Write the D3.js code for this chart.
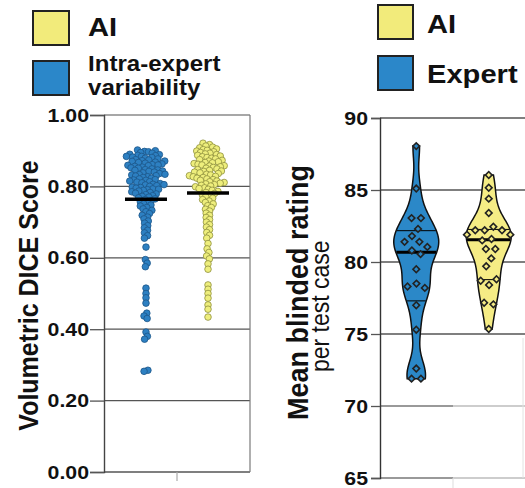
<!DOCTYPE html>
<html><head><meta charset="utf-8">
<script src="https://cdn.jsdelivr.net/npm/d3@7"></script>
<style>body{margin:0;background:#fff} svg{display:block} text{font-family:"Liberation Sans",Arial,sans-serif;fill:#111}</style>
</head><body><svg id="c" width="525" height="488"></svg>
<script>
// ---------------- DATA ----------------
const swarmGroups = ["Intra-expert variability", "AI"];
const diceTicks = [0, 0.2, 0.4, 0.6, 0.8, 1.0];
const diceExpert = [
0.902,0.900,0.898,0.897,0.895,0.893,
0.890,0.889,0.887,0.886,0.884,0.884,0.882,0.881,0.879,
0.877,0.875,0.874,0.872,0.871,0.870,0.868,0.867,0.865,
0.863,0.861,0.860,0.859,0.858,0.856,0.854,0.852,0.851,
0.849,0.847,0.846,0.845,0.843,0.842,0.840,0.838,0.836,
0.834,0.833,0.832,0.830,0.829,0.827,0.825,0.823,0.821,
0.819,0.818,0.817,0.815,0.813,0.812,0.810,0.808,0.806,
0.805,0.804,0.802,0.800,0.798,0.797,0.795,0.793,0.792,0.791,
0.789,0.787,0.785,0.783,0.781,0.779,0.777,
0.774,0.772,0.770,0.768,0.765,0.763,0.760,
0.757,0.754,0.751,0.748,0.745,
0.741,0.737,0.733,0.729,
0.724,0.719,0.714,0.709,
0.703,0.697,0.690,0.684,
0.677,0.670,0.662,0.655,
0.630,0.595,0.585,0.575,0.515,0.500,0.488,0.473,0.445,0.437,0.430,0.392,0.380,0.372,0.285,0.282];
const diceAI = [
0.921,0.917,0.913,0.910,0.908,
0.905,0.903,0.901,0.899,0.897,0.895,
0.893,0.891,0.889,0.887,0.885,0.883,0.881,
0.879,0.877,0.875,0.873,0.871,0.869,0.867,0.866,
0.864,0.862,0.860,0.858,0.857,0.855,0.853,0.851,
0.849,0.847,0.845,0.843,0.842,0.840,0.838,0.836,
0.834,0.832,0.830,0.828,0.827,0.825,0.823,0.821,
0.819,0.817,0.815,0.813,0.811,0.809,0.807,0.805,
0.803,0.801,0.799,0.796,0.794,0.792,0.789,
0.786,0.783,0.780,0.777,0.774,0.771,
0.767,0.763,0.759,0.755,0.751,
0.746,0.741,0.736,0.731,
0.725,0.719,0.713,0.707,
0.700,0.693,0.686,0.679,
0.671,0.663,0.655,
0.640,0.625,0.615,0.605,0.597,0.583,0.568,
0.524,0.512,0.500,0.487,0.468,0.456,0.434];
const leftLegendLabels = [["AI"], ["Intra-expert", "variability"]];
const leftAxisTitle = "Volumetric DICE Score";

const ratingGroups = ["Expert", "AI"];
const ratingTicks = [65, 70, 75, 80, 85, 90];
const ratingExpert = [88.05,85.1,83.05,83.05,82.3,81.8,81.4,81.4,81.05,80.8,80.55,79.5,78.5,78.3,78.2,77.0,75.3,72.6,71.9,71.9];
const ratingAI = [86.04,85.16,84.4,83.4,82.45,82.2,82.2,82.2,81.9,81.9,81.6,81.5,80.9,80.9,80.25,79.7,78.8,78.7,78.4,77.17,77.06,75.35];
const rightLegendLabels = ["AI", "Expert"];
const rightAxisTitle = ["Mean blinded rating", "per test case"];

// ---------------- STYLE ----------------
const SX = 1.12;
const C = {
  blueFill: "#2d80c2", blueStroke: "#1d5688",
  yelFill: "#eeee7c", yelStroke: "#8e8f3e",
  legBlue: "#2b87c9", legYel: "#f2eb7b",
  vBlue: "#2b88c8", vYel: "#f5ec85"
};
const svg = d3.select("#c");

function stext(g, x, y, str, size, weight, anchor, rot) {
  return g.append("text")
    .attr("transform", `translate(${x},${y}) scale(${SX},1)` + (rot ? " rotate(-90)" : ""))
    .attr("font-size", size).attr("font-weight", weight).attr("text-anchor", anchor)
    .text(str);
}
function stretchAxisText(g) {
  g.selectAll(".tick text").each(function() {
    const t = d3.select(this);
    const x = +t.attr("x");
    t.attr("transform", `translate(${x},0) scale(${SX},1)`).attr("x", 0);
  });
}
function swarm(values, cx, y, r, s) {
  const nodes = values.map((v, i) => ({ v, x: cx + ((i % 2) ? 0.5 : -0.5), fy: y(v), y: y(v) }));
  const sim = d3.forceSimulation(nodes)
    .force("x", d3.forceX(cx).strength(s))
    .force("c", d3.forceCollide(r).iterations(4)).stop();
  for (let i = 0; i < 400; i++) sim.tick();
  return nodes;
}

// ---------------- LEFT CHART ----------------
const yL = d3.scaleLinear().domain([0, 1]).range([472, 115]);
const xL = d3.scalePoint().domain(swarmGroups).range([104, 250]).padding(0.677);
const gL = svg.append("g");

gL.selectAll("line.grid").data(diceTicks).join("line")
  .attr("x1", 104).attr("x2", 250).attr("y1", d => yL(d)).attr("y2", d => yL(d))
  .attr("stroke", d => d === 1 ? "#8a8a8a" : "#555").attr("stroke-width", 1.3);
gL.append("line").attr("x1", 250).attr("x2", 250).attr("y1", yL(1)).attr("y2", yL(0))
  .attr("stroke", "#7a7a7a").attr("stroke-width", 1.2);
const axL = gL.append("g").attr("transform", "translate(104,0)")
  .call(d3.axisLeft(yL).tickValues(diceTicks).tickFormat(d3.format(".2f")).tickSize(14).tickPadding(1));
axL.select(".domain").attr("stroke", "#444").attr("stroke-width", 1.4);
axL.selectAll(".tick line").attr("stroke", "#555").attr("stroke-width", 1.3);
axL.selectAll(".tick text").attr("font-size", 19).attr("font-weight", "bold").attr("fill", "#111")
  .attr("font-family", '"Liberation Sans",Arial,sans-serif');
stretchAxisText(axL);
const midL = (xL(swarmGroups[0]) + xL(swarmGroups[1])) / 2;
gL.append("line").attr("x1", midL).attr("x2", midL).attr("y1", yL(0)).attr("y2", yL(0) + 9)
  .attr("stroke", "#aaa").attr("stroke-width", 1.2);

stext(gL, 38, (yL(0) + yL(1)) / 2 + 2, leftAxisTitle, 25, "bold", "middle", true);

const swarmSets = [
  { vals: diceExpert, g: swarmGroups[0], fill: C.blueFill, stroke: C.blueStroke },
  { vals: diceAI, g: swarmGroups[1], fill: C.yelFill, stroke: C.yelStroke }
];
swarmSets.forEach(s => {
  const cx = xL(s.g);
  const nodes = swarm(s.vals, cx, yL, 2.0, 0.3);
  gL.append("g").selectAll("circle").data(nodes).join("circle")
    .attr("cx", d => d.x).attr("cy", d => d.y).attr("r", 3.3)
    .attr("fill", s.fill).attr("stroke", s.stroke).attr("stroke-width", 0.8);
  const m = d3.mean(s.vals);
  gL.append("line").attr("x1", cx - 21).attr("x2", cx + 21).attr("y1", yL(m)).attr("y2", yL(m))
    .attr("stroke", "#000").attr("stroke-width", 3.5);
});

// left legend
const legL = svg.append("g");
[[C.legYel, 11], [C.legBlue, 61]].forEach(([f, y]) => {
  legL.append("rect").attr("x", 33).attr("y", y).attr("width", 36).attr("height", 34)
    .attr("fill", f).attr("stroke", "#222").attr("stroke-width", 2);
});
stext(legL, 88, 36, leftLegendLabels[0][0], 26, "bold", "start");
stext(legL, 88, 71, leftLegendLabels[1][0], 21.5, "bold", "start");
stext(legL, 88, 94.5, leftLegendLabels[1][1], 21.5, "bold", "start");

// ---------------- RIGHT CHART ----------------
const yR = d3.scaleLinear().domain([65, 90]).range([478, 118]);
const xR = d3.scalePoint().domain(ratingGroups).range([380, 525]).padding(0.5);
const gR = svg.append("g");

gR.selectAll("line.grid").data(ratingTicks).join("line")
  .attr("x1", 380).attr("x2", d => d >= 75 ? 525 : 453).attr("y1", d => yR(d)).attr("y2", d => yR(d))
  .attr("stroke", d => d >= 75 ? "#555" : "#777").attr("stroke-width", 1.3);
gR.selectAll("line.grid2").data(ratingTicks.filter(d => d < 75)).join("line")
  .attr("x1", 453).attr("x2", 525).attr("y1", d => yR(d)).attr("y2", d => yR(d))
  .attr("stroke", "#bdbdbd").attr("stroke-width", 1.3);
gR.append("line").attr("x1", 453).attr("x2", 453).attr("y1", yR(65)).attr("y2", 488).attr("stroke", "#ddd");
gR.append("line").attr("x1", 523).attr("x2", 523).attr("y1", yR(75) + 4).attr("y2", yR(65)).attr("stroke", "#e2e2e2");
const axR = gR.append("g").attr("transform", "translate(380,0)")
  .call(d3.axisLeft(yR).tickValues(ratingTicks).tickFormat(d3.format("d")).tickSize(9).tickPadding(3));
axR.select(".domain").attr("stroke", "#333").attr("stroke-width", 1.4);
axR.selectAll(".tick line").attr("stroke", "#555").attr("stroke-width", 1.3);
axR.selectAll(".tick text").attr("font-size", 19).attr("font-weight", "bold").attr("fill", "#111")
  .attr("font-family", '"Liberation Sans",Arial,sans-serif');
stretchAxisText(axR);

stext(gR, 308, 420, rightAxisTitle[0], 27, "bold", "start", true);
stext(gR, 329, 372, rightAxisTitle[1], 23, "normal", "start", true);

function quart(sorted, p) {
  const pos = (sorted.length + 1) * p - 1;
  const lo = Math.floor(pos);
  return sorted[lo] + (pos - lo) * (sorted[lo + 1] - sorted[lo]);
}
const violinSets = [
  { vals: ratingExpert, g: ratingGroups[0], fill: C.vBlue },
  { vals: ratingAI, g: ratingGroups[1], fill: C.vYel }
];
violinSets.forEach(s => {
  const cx = xR(s.g);
  const sorted = s.vals.slice().sort(d3.ascending);
  const lo = sorted[0], hi = sorted[sorted.length - 1];
  const h = 1.05;
  const pts = d3.range(lo, hi, 0.1).concat([hi]);
  const dens = pts.map(t => ({ t, d: d3.sum(sorted, v => Math.exp(-0.5 * ((t - v) / h) ** 2)) }));
  const maxD = d3.max(dens, d => d.d);
  const wS = d3.scaleLinear().domain([0, maxD]).range([0, 22.5]);
  const halfAt = v => {
    const i = d3.bisector(d => d.t).left(dens, v);
    const a = dens[Math.max(0, i - 1)], b = dens[Math.min(dens.length - 1, i)];
    const f = b.t === a.t ? 0 : (v - a.t) / (b.t - a.t);
    return wS(a.d + f * (b.d - a.d));
  };
  const area = d3.area().curve(d3.curveBasis)
    .y(d => yR(d.t)).x0(d => cx - wS(d.d)).x1(d => cx + wS(d.d));
  gR.append("path").attr("d", area(dens)).attr("fill", s.fill);
  const q1 = quart(sorted, 0.25), q3 = quart(sorted, 0.75), med = d3.median(sorted);
  [[q1, 1], [q3, 1], [med, 3]].forEach(([v, w]) => {
    const hw = halfAt(v) - 0.5;
    gR.append("line").attr("x1", cx - hw).attr("x2", cx + hw).attr("y1", yR(v)).attr("y2", yR(v))
      .attr("stroke", "#000").attr("stroke-width", w);
  });
  gR.append("path").attr("d", area(dens)).attr("fill", "none").attr("stroke", "#111").attr("stroke-width", 1.5);
  const nodes = swarm(sorted, cx, yR, 4.7, 0.15);
  const sym = d3.symbol().type(d3.symbolSquare).size(22);
  gR.append("g").selectAll("path").data(nodes).join("path")
    .attr("transform", d => `translate(${d.x},${d.y}) rotate(45)`)
    .attr("d", sym).attr("fill", s.fill).attr("stroke", "#222").attr("stroke-width", 1.6);
});

// right legend
const legR = svg.append("g");
[[C.legYel, 5], [C.legBlue, 56]].forEach(([f, y]) => {
  legR.append("rect").attr("x", 378).attr("y", y).attr("width", 35).attr("height", 34)
    .attr("fill", f).attr("stroke", "#222").attr("stroke-width", 2);
});
stext(legR, 427, 33, rightLegendLabels[0], 26, "bold", "start");
stext(legR, 427, 83, rightLegendLabels[1], 26, "bold", "start");
</script></body></html>
